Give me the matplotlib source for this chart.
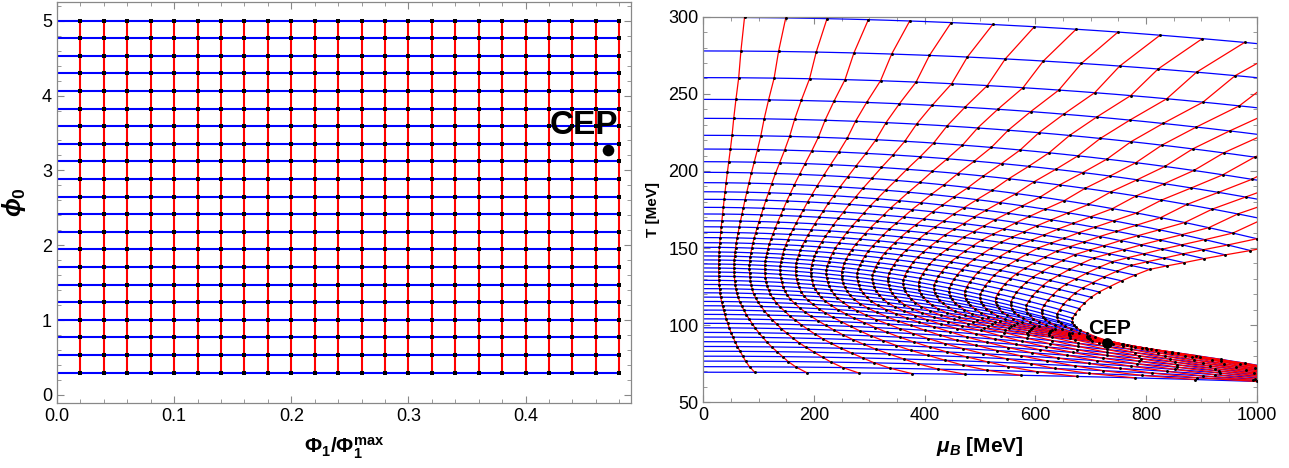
import numpy as np
import matplotlib
matplotlib.use("Agg")
import matplotlib.pyplot as plt
from matplotlib.ticker import MultipleLocator, FormatStrFormatter

plt.rcParams.update({
    "font.family": ["Liberation Sans", "DejaVu Sans"],
    "mathtext.fontset": "custom",
    "mathtext.rm": "Liberation Sans",
    "mathtext.it": "Liberation Sans:italic:bold",
    "mathtext.bf": "Liberation Sans:bold",
    "mathtext.fallback": "stixsans",
})

# ---- horizon-data grid (left panel) ----
phi1_ratio = [0.02, 0.04, 0.06, 0.08, 0.10, 0.12, 0.14, 0.16, 0.18, 0.20, 0.22, 0.24,
              0.26, 0.28, 0.30, 0.32, 0.34, 0.36, 0.38, 0.40, 0.42, 0.44, 0.46, 0.48]
phi0_values = [0.3, 0.535, 0.77, 1.005, 1.24, 1.475, 1.71, 1.945, 2.18, 2.415, 2.65,
               2.885, 3.12, 3.355, 3.59, 3.825, 4.06, 4.295, 4.53, 4.765, 5.0]
cep_grid = (0.47, 3.27)

# ---- constant-phi0 curves in the (mu_B, T) plane (right panel) ----
# temperature at mu_B = 0 [MeV]
T_at_zero_mu = [299.6, 277.8, 260.5, 246.4, 234.1, 223.1, 214.2, 206.0, 199.1, 192.4,
                186.5, 181.6, 176.4, 172.1, 167.7, 163.8, 160.2, 156.8, 153.5, 150.5,
                147.5, 144.9, 142.3, 139.7, 137.1, 134.5, 131.8, 129.1, 126.4, 123.7,
                121.0, 118.2, 115.4, 112.6, 109.8, 107.0, 104.1, 101.2, 98.3, 95.3,
                92.3, 89.3, 86.2, 83.1, 79.9, 76.7, 73.1, 69.5]
# mu_B gained per Phi1 grid step near mu_B = 0 [MeV]
mu_step = [74.5, 68.0, 64.0, 59.0, 55.0, 52.0, 49.0, 46.0, 43.5, 41.2,
           39.3, 37.7, 36.2, 34.9, 33.6, 32.5, 31.5, 30.6, 29.8, 29.2,
           28.7, 28.3, 28.0, 27.8, 27.8, 27.9, 28.1, 28.4, 28.9, 29.5,
           30.3, 31.5, 33.0, 34.8, 36.8, 39.0, 41.5, 44.2, 47.0, 50.2,
           53.7, 57.5, 61.7, 66.5, 71.5, 76.5, 83.5, 93.0]
# growth of the step with the Phi1 index, in units of 1e-4 per step squared
mu_stretch = [0.6, 0.5, 0.4, 0.3, 0.2, 0.1, 0.0, 0.0, 0.0, 0.0,
              0.0, 0.0, 0.0, 0.0, 0.0, 0.0, 0.0, 0.0, 0.0, 0.0,
              0.0, 0.0, 0.0, 0.0, 0.0, 0.0, 0.0, 0.0, 0.0, 0.0,
              0.0, 0.0, 0.0, 0.0, 0.0, 0.0, 0.5, 1.0, 1.5, 2.0,
              2.6, 3.2, 4.0, 4.7, 5.4, 6.0, 6.8, 7.6]
# temperature drop reached at mu_B = 1000 MeV [MeV]
T_drop_1000 = [17.0, 17.3, 19.5, 22.6, 25.3, 29.0, 32.4, 36.3, 43.0, 45.0,
               46.0, 47.0, 47.5, 48.0, 48.5, 51.5, 55.0, 59.0, 62.5, 66.0,
               70.0, 74.0, 77.5, 79.0, 78.5, 77.0, 73.0, 70.0, 65.5, 62.0,
               58.0, 53.0, 48.3, 43.2, 38.6, 34.4, 30.0, 28.2, 26.4, 24.4,
               22.4, 20.4, 18.3, 16.2, 14.0, 11.8, 9.0, 6.0]
n_phi1_steps = 24
cep_mu, cep_T = 729.0, 88.7

T0 = np.asarray(T_at_zero_mu)
dmu = np.asarray(mu_step)
stretch = np.asarray(mu_stretch) * 1e-4
drop = np.asarray(T_drop_1000)


def chem_pot(i, k):
    return dmu[i] * k * (1.0 + stretch[i] * k ** 2)


def temperature(i, mu):
    return T0[i] - drop[i] * (mu / 1000.0) ** 2


BLUE = (0.0, 0.0, 1.0)
RED = (1.0, 0.0, 0.0)

fig = plt.figure(figsize=(12.89, 4.68), dpi=100)
axL = fig.add_axes([0.0442, 0.1389, 0.4453, 0.8568])
axR = fig.add_axes([0.5456, 0.1404, 0.4293, 0.8239])

# ---------------- left panel ----------------
for p0 in phi0_values:
    axL.plot([0.0, phi1_ratio[-1]], [p0, p0], color=BLUE, lw=1.5, zorder=2)
for r in phi1_ratio:
    axL.plot([r, r], [phi0_values[0], phi0_values[-1]], color=RED, lw=1.5, zorder=3)
gx, gy = np.meshgrid(phi1_ratio, phi0_values)
axL.scatter(gx.ravel(), gy.ravel(), s=5, marker="s", color="black", lw=0, zorder=4)
axL.scatter([cep_grid[0]], [cep_grid[1]], s=70, color="black", lw=0, zorder=5)
axL.text(cep_grid[0] - 0.0205, cep_grid[1] + 0.33, "CEP", fontsize=24,
         fontweight="bold", ha="center", va="center", zorder=6)

axL.set_xlim(0.0, 0.49)
axL.set_ylim(-0.107, 5.25)
axL.xaxis.set_major_locator(MultipleLocator(0.1))
axL.xaxis.set_minor_locator(MultipleLocator(0.02))
axL.xaxis.set_major_formatter(FormatStrFormatter("%.1f"))
axL.yaxis.set_major_locator(MultipleLocator(1))
axL.yaxis.set_minor_locator(MultipleLocator(0.2))
axL.set_xlabel(r"$\mathbf{\Phi_1/\Phi_1^{max}}$", fontsize=15, labelpad=8)
axL.set_ylabel(r"$\phi_\mathbf{0}$", fontsize=18, labelpad=10)

# ---------------- right panel ----------------
n_lines = len(T0)
k_fine = np.linspace(0.0, n_phi1_steps, 400)
for i in range(n_lines):
    mu = chem_pot(i, k_fine)
    axR.plot(mu, temperature(i, mu), color=BLUE, lw=0.9, zorder=2)

idx = np.arange(n_lines)
for k in range(1, n_phi1_steps + 1):
    mu = chem_pot(idx, k)
    axR.plot(mu, temperature(idx, mu), color=RED, lw=0.9, zorder=3)
    axR.scatter(mu, temperature(idx, mu), s=4.5, marker="o", color="black", lw=0, zorder=4)

axR.scatter([cep_mu], [cep_T], s=60, color="black", lw=0, zorder=5)
axR.text(cep_mu + 5, cep_T + 9, "CEP", fontsize=15, fontweight="bold",
         ha="center", va="center", zorder=6)

axR.set_xlim(0, 1000)
axR.set_ylim(50, 300)
axR.xaxis.set_major_locator(MultipleLocator(200))
axR.xaxis.set_minor_locator(MultipleLocator(50))
axR.yaxis.set_major_locator(MultipleLocator(50))
axR.yaxis.set_minor_locator(MultipleLocator(10))
axR.set_xlabel(r"$\mu_B$ [MeV]", fontsize=15, fontweight="bold", labelpad=8)
axR.set_ylabel("T [MeV]", fontsize=11, fontweight="bold", labelpad=6)

for ax in (axL, axR):
    ax.tick_params(which="both", direction="in", top=True, right=True,
                   color="#888888", labelsize=13, labelcolor="black")
    ax.tick_params(which="major", length=5, width=0.8)
    ax.tick_params(which="minor", length=2.8, width=0.6)
    for sp in ax.spines.values():
        sp.set_color("#888888")
        sp.set_linewidth(0.9)

fig.savefig("out.png", dpi=100)
